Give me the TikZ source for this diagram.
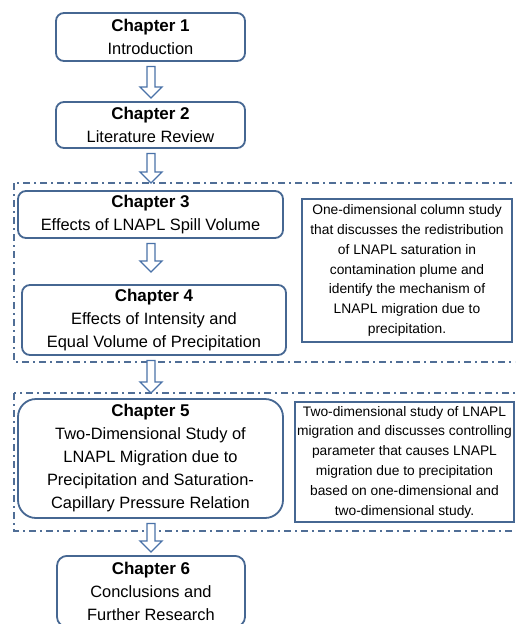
\documentclass[tikz,border=0pt]{standalone}
\usepackage{fontspec}
\setmainfont{Liberation Sans}
\usetikzlibrary{calc}
\definecolor{boxline}{RGB}{70,103,146}
\definecolor{arrline}{RGB}{74,114,168}
\definecolor{dashline}{RGB}{80,110,150}
\tikzset{
  chapbox/.style={draw=boxline, line width=1.8pt, rounded corners=8pt, align=center,
    inner sep=0pt, font=\fontsize{16.4}{23}\selectfont},
  notebox/.style={draw=boxline, line width=1.5pt, align=center, inner sep=0pt,
    font=\fontsize{13.8}{19.8}\selectfont},
  groupframe/.style={draw=dashline, line width=1.4pt, dash pattern=on 7pt off 4pt on 2pt off 4pt},
  hollow/.style={draw=arrline, line width=1.3pt, fill=white, line join=miter},
}
\newcommand{\chap}[1]{{\fontsize{17}{23}\selectfont\bfseries #1}}
\newcommand{\hollowarrow}[2]{%
  \path (#1.south -| #2) coordinate (ha);
  \draw[hollow] ($(ha)+(-4,4.5)$) -- ($(ha)+(4,4.5)$) -- ($(#2)+(4,-11)$) -- ($(#2)+(11,-11)$)
    -- (#2) -- ($(#2)+(-11,-11)$) -- ($(#2)+(-4,-11)$) -- cycle;}
\begin{document}
\begin{tikzpicture}[x=1pt, y=-1pt]
\useasboundingbox (0,0) rectangle (515,624);
\clip (0,0) rectangle (515,624);
\fill[white] (0,0) rectangle (515,624);
% group frames
\draw[groupframe] (14,183) rectangle (540,362);
\draw[groupframe] (14,393) rectangle (540,531);
% chapter boxes
\node[chapbox, minimum width=189pt, minimum height=48pt] (b1) at (150.5,37)
  {\chap{Chapter 1}\\Introduction};
\node[chapbox, minimum width=189pt, minimum height=46pt] (b2) at (150.5,125)
  {\chap{Chapter 2}\\Literature Review};
\node[chapbox, minimum width=265pt, minimum height=47pt] (b3) at (150.5,214.5)
  {\chap{Chapter 3}\\Effects of LNAPL Spill Volume};
\node[chapbox, minimum width=264pt, minimum height=70pt] (b4) at (154,320)
  {\chap{Chapter 4}\\Effects of Intensity and\\Equal Volume of Precipitation};
\node[chapbox, rounded corners=18pt, minimum width=265pt, minimum height=119pt] (b5) at (150.5,458.5)
  {\chap{Chapter 5}\\Two-Dimensional Study of\\LNAPL Migration due to\\Precipitation and Saturation-\\Capillary Pressure Relation};
\node[chapbox, rounded corners=10pt, minimum width=188pt, minimum height=71pt, anchor=north] (b6) at (151,555)
  {\chap{Chapter 6}\\Conclusions and\\Further Research};
% note boxes
\node[notebox, minimum width=210pt, minimum height=143pt] (n1) at (407,270.5)
  {One-dimensional column study\\that discusses the redistribution\\of LNAPL saturation in\\contamination plume and\\identify the mechanism of\\LNAPL migration due to\\precipitation.};
\node[notebox, minimum width=219pt, minimum height=120pt] (n2) at (404.5,462)
  {Two-dimensional study of LNAPL\\migration and discusses controlling\\parameter that causes LNAPL\\migration due to precipitation\\based on one-dimensional and\\two-dimensional study.};
% arrow tips
\coordinate (t1) at (151,98);
\coordinate (t2) at (151,183);
\coordinate (t3) at (151,272);
\coordinate (t4) at (151,393);
\coordinate (t5) at (151,552);
\hollowarrow{b1}{t1}
\hollowarrow{b2}{t2}
\hollowarrow{b3}{t3}
\hollowarrow{b4}{t4}
\hollowarrow{b5}{t5}
\end{tikzpicture}
\end{document}
